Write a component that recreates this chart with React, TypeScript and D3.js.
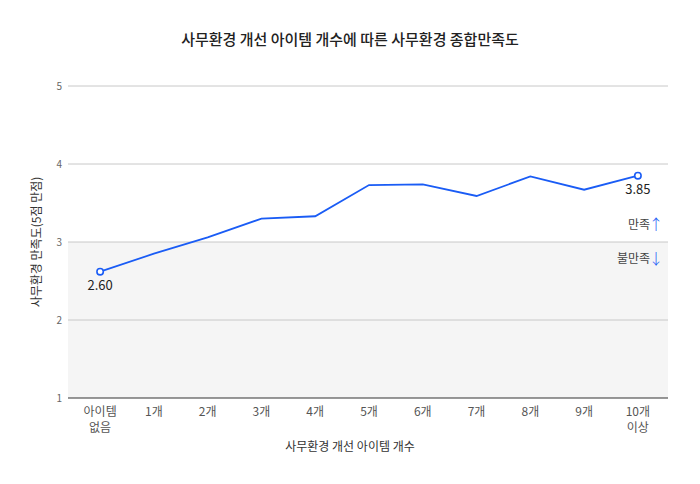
import React, { useEffect, useRef } from "react";
import * as d3 from "d3";

const categories = ["아이템\n없음", "1개", "2개", "3개", "4개", "5개", "6개", "7개", "8개", "9개", "10개\n이상"];
const satisfaction = [2.62, 2.85, 3.06, 3.3, 3.33, 3.73, 3.74, 3.59, 3.84, 3.67, 3.85];
const yTicks = [1, 2, 3, 4, 5];
const markedIndex = [0, 10];
const markedLabels = ["2.60", "3.85"];

const FONT = "'Noto Sans CJK KR', 'Noto Sans', sans-serif";
const BLUE = "#1a5cf5";

export default function App() {
  const svgRef = useRef<SVGSVGElement>(null);

  useEffect(() => {
    if (!svgRef.current) return;
    const width = 700;
    const height = 484;
    const left = 68;
    const right = 668;
    const top = 86;
    const bottom = 398;

    const svg = d3.select(svgRef.current);
    svg.selectAll("*").remove();
    svg.attr("width", width).attr("height", height).style("font-family", FONT);

    svg.append("rect").attr("width", width).attr("height", height).attr("fill", "#fff");

    const x = d3.scalePoint<string>().domain(categories).range([70, right]).padding(0.56);
    const y = d3.scaleLinear().domain([1, 5]).range([bottom, top]);

    // shaded "unsatisfied" zone below 3
    svg
      .append("rect")
      .attr("x", left)
      .attr("y", y(3))
      .attr("width", right - left)
      .attr("height", y(1) - y(3))
      .attr("fill", "#f5f5f5");

    const grid = svg.append("g");
    grid
      .selectAll("line")
      .data(yTicks.filter((t) => t > 1))
      .join("line")
      .attr("x1", left)
      .attr("x2", right)
      .attr("y1", (d) => y(d))
      .attr("y2", (d) => y(d))
      .attr("stroke", "#c8c8c8")
      .attr("stroke-width", 1);

    svg
      .append("line")
      .attr("x1", left)
      .attr("x2", right)
      .attr("y1", y(1))
      .attr("y2", y(1))
      .attr("stroke", "#333")
      .attr("stroke-width", 1.2);

    svg
      .append("g")
      .selectAll("text")
      .data(yTicks)
      .join("text")
      .attr("x", 62)
      .attr("y", (d) => y(d))
      .attr("dy", "0.35em")
      .attr("text-anchor", "end")
      .style("font-size", "10px")
      .style("fill", "#666")
      .text((d) => d);

    const xLabels = svg
      .append("g")
      .selectAll("text")
      .data(categories)
      .join("text")
      .attr("x", (d) => x(d) || 0)
      .attr("y", 416)
      .attr("text-anchor", "middle")
      .style("font-size", "12px")
      .style("fill", "#555");
    xLabels.each(function (d) {
      const t = d3.select(this);
      d.split("\n").forEach((part, i) => {
        t.append("tspan")
          .attr("x", x(d) || 0)
          .attr("dy", i === 0 ? 0 : 16)
          .text(part);
      });
    });

    const line = d3
      .line<number>()
      .x((_d, i) => x(categories[i]) || 0)
      .y((d) => y(d));

    svg
      .append("path")
      .datum(satisfaction)
      .attr("fill", "none")
      .attr("stroke", BLUE)
      .attr("stroke-width", 1.8)
      .attr("d", line);

    svg
      .append("g")
      .selectAll("circle")
      .data(markedIndex)
      .join("circle")
      .attr("cx", (i) => x(categories[i]) || 0)
      .attr("cy", (i) => y(satisfaction[i]))
      .attr("r", 3.2)
      .attr("fill", "#fff")
      .attr("stroke", BLUE)
      .attr("stroke-width", 1.6);

    svg
      .append("g")
      .selectAll("text")
      .data(markedIndex)
      .join("text")
      .attr("x", (i) => x(categories[i]) || 0)
      .attr("y", (i) => y(satisfaction[i]) + 18)
      .attr("text-anchor", "middle")
      .style("font-size", "13px")
      .style("fill", "#222")
      .text((_i, k) => markedLabels[k]);

    // satisfied / unsatisfied markers
    const notes = [
      { text: "만족", arrow: "↑", yy: y(3) - 17 },
      { text: "불만족", arrow: "↓", yy: y(3) + 17 },
    ];
    notes.forEach((n) => {
      svg
        .append("text")
        .attr("x", 650)
        .attr("y", n.yy)
        .attr("dy", "0.35em")
        .attr("text-anchor", "end")
        .style("font-size", "12px")
        .style("fill", "#444")
        .text(n.text);
      svg
        .append("text")
        .attr("x", 656)
        .attr("y", n.yy)
        .attr("dy", "0.35em")
        .attr("text-anchor", "middle")
        .style("font-size", "15px")
        .style("font-weight", "300")
        .style("fill", BLUE)
        .text(n.arrow);
    });

    svg
      .append("text")
      .attr("x", width / 2)
      .attr("y", 40)
      .attr("dy", "0.35em")
      .attr("text-anchor", "middle")
      .style("font-size", "15px")
      .style("font-weight", "500")
      .style("fill", "#222")
      .text("사무환경 개선 아이템 개수에 따른 사무환경 종합만족도");

    svg
      .append("text")
      .attr("x", width / 2)
      .attr("y", 447)
      .attr("dy", "0.35em")
      .attr("text-anchor", "middle")
      .style("font-size", "12px")
      .style("fill", "#333")
      .text("사무환경 개선 아이템 개수");

    svg
      .append("text")
      .attr("transform", `translate(37,${(top + bottom) / 2}) rotate(-90)`)
      .attr("dy", "0.35em")
      .attr("text-anchor", "middle")
      .style("font-size", "12px")
      .style("fill", "#333")
      .text("사무환경 만족도(5점 만점)");
  }, []);

  return (
    <div style={{ margin: -8 }}>
      <svg ref={svgRef} style={{ display: "block" }} />
    </div>
  );
}
